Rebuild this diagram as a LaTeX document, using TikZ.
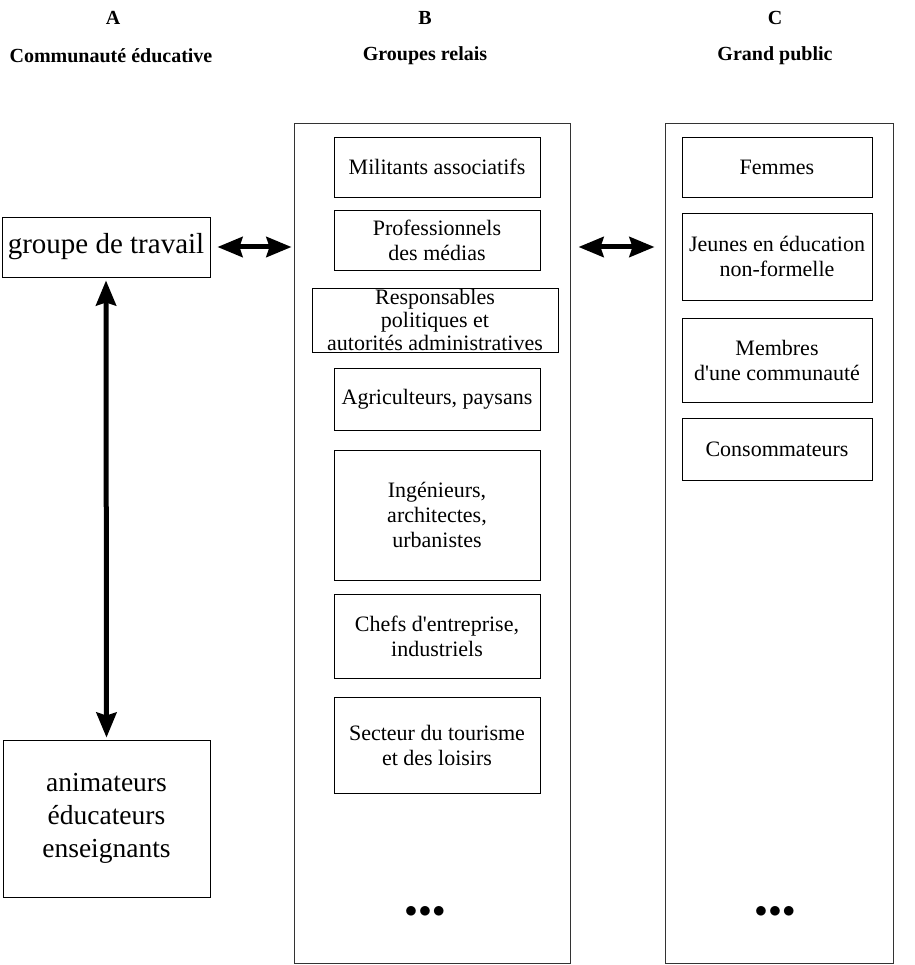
\documentclass[tikz,border=0pt]{standalone}
\usepackage{fontspec}
\setmainfont{Liberation Serif}[Ligatures=TeXOff]
\usetikzlibrary{arrows.meta}
\begin{document}
\begin{tikzpicture}[x=1pt,y=-1pt,
  box/.style={draw=black,line width=0.9pt,align=center,inner sep=0pt,font=\fontsize{22}{25}\selectfont},
  outer/.style={draw=black!80,line width=1pt},
  head/.style={font=\fontsize{20}{24}\selectfont\bfseries},
  dots/.style={font=\fontsize{24}{24}\selectfont\bfseries},
  bigarrow/.style={line width=5pt,{Stealth[length=25pt,width=20pt,inset=3pt]}-{Stealth[length=25pt,width=20pt,inset=3pt]}}]
\useasboundingbox (0,0) rectangle (914,965);
% headers
\node[head] (hA) at (113,18) {A};
\node[head] (hB) at (425,18) {B};
\node[head] (hC) at (775,18) {C};
\node[head] (tA) at (111,56) {Communauté éducative};
\node[head] (tB) at (425,56) {Groupes relais};
\node[head] (tC) at (775,56) {Grand public};
% outer boxes
\node[outer,minimum width=276,minimum height=839,inner sep=0] (Bout) at (432,543.5) {};
\node[outer,minimum width=228,minimum height=839,inner sep=0] (Cout) at (779,543.5) {};
% column A
\node[box,minimum width=208,minimum height=60,font=\fontsize{29}{32}\selectfont] (grp) at (106,247) {groupe de travail};
\node[box,minimum width=207,minimum height=157,font=\fontsize{27.5}{33}\selectfont] (anim) at (106.5,818.5) {animateurs\\éducateurs\\enseignants};
% column B
\node[box,minimum width=206,minimum height=60] (b1) at (437,167) {Militants associatifs};
\node[box,minimum width=206,minimum height=60] (b2) at (437,240) {Professionnels\\des médias};
\node[box,minimum width=246,minimum height=64,font=\fontsize{22}{23}\selectfont] (b3) at (435,320) {Responsables\\politiques et\\autorités administratives};
\node[box,minimum width=206,minimum height=62] (b4) at (437,399) {Agriculteurs, paysans};
\node[box,minimum width=206,minimum height=130] (b5) at (437,515) {Ingénieurs,\\architectes,\\urbanistes};
\node[box,minimum width=206,minimum height=84] (b6) at (437,636) {Chefs d'entreprise,\\industriels};
\node[box,minimum width=206,minimum height=96] (b7) at (437,745) {Secteur du tourisme\\et des loisirs};
\node[dots] (bd) at (425,912) {$\bullet\!\bullet\!\bullet$};
% column C
\node[box,minimum width=190,minimum height=60] (c1) at (777,167) {Femmes};
\node[box,minimum width=190,minimum height=87] (c2) at (777,256.5) {Jeunes en éducation\\non-formelle};
\node[box,minimum width=190,minimum height=84] (c3) at (777,360) {Membres\\d'une communauté};
\node[box,minimum width=190,minimum height=62] (c4) at (777,449) {Consommateurs};
\node[dots] (cd) at (775,912) {$\bullet\!\bullet\!\bullet$};
% arrows
\draw[bigarrow,shorten <=7pt,shorten >=2pt] (grp.east) -- (grp.east -| Bout.west);
\draw[bigarrow,shorten <=8pt,shorten >=10pt] (grp.east -| Bout.east) -- (grp.east -| Cout.west);
\draw[bigarrow,shorten <=3pt,shorten >=2pt] (grp.south) -- (anim.north);
\end{tikzpicture}
\end{document}
